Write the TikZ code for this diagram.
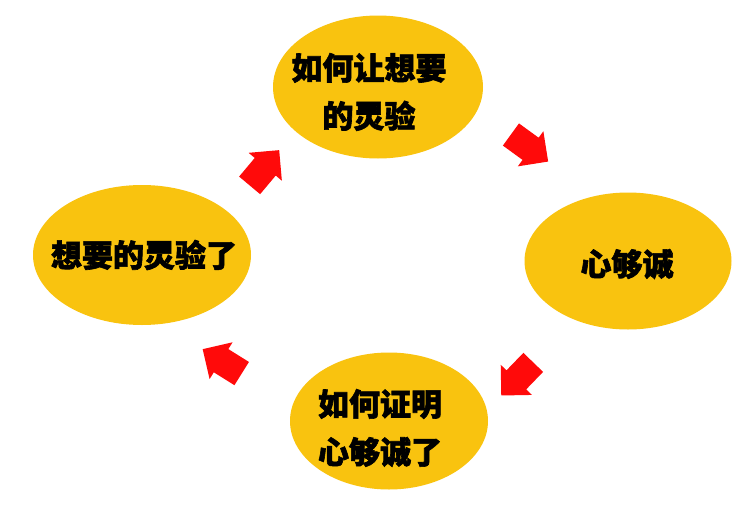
\documentclass[tikz,border=0pt]{standalone}
\usepackage{fontspec}
\usepackage{xcolor}
\usepackage{tikz}
\usetikzlibrary{shapes.geometric, shapes.arrows}
\newfontfamily\cjk{Noto Sans CJK SC}[BoldFeatures={FakeBold=2}]
\definecolor{bubbleGold}{HTML}{F9C30F}
\definecolor{flowRed}{HTML}{FF0A0A}

\begin{document}
\begin{tikzpicture}[
  x=1pt, y=-1pt,
  bubble/.style={
    ellipse, draw=none, fill=bubbleGold,
    inner sep=0pt
  },
  caption/.style={
    font=\cjk\bfseries\fontsize{31}{48}\selectfont,
    text=black, align=center, inner sep=0pt
  },
  flow/.style={
    single arrow, draw=none, fill=flowRed,
    minimum height=46pt, inner xsep=0pt, inner ysep=13.5pt,
    single arrow head extend=8pt
  },
]
\useasboundingbox[fill=white] (0,0) rectangle (750,509);

% Bubbles
\node[bubble, minimum width=210pt, minimum height=143pt] (ask) at (378,87) {};
\node[bubble, minimum width=207pt, minimum height=137pt] (heart) at (628,261) {};
\node[bubble, minimum width=198pt, minimum height=137pt] (prove) at (389,421) {};
\node[bubble, minimum width=218pt, minimum height=140pt] (done) at (142,255) {};

% Texts
\node[caption] (askT) at (369,92) {如何让想要\\的灵验};
\node[caption] (heartT) at (627,264) {心够诚};
\node[caption] (proveT) at (380,428) {如何证明\\心够诚了};
\node[caption] (doneT) at (144,255) {想要的灵验了};

% Arrows between bubbles
\node[flow, rotate=-36] (f1) at (524,144) {};
\node[flow, rotate=-134] (f2) at (522,374) {};
\node[flow, rotate=148] (f3) at (228,365) {};
\node[flow, rotate=50] (f4) at (260,173) {};

\end{tikzpicture}
\end{document}
